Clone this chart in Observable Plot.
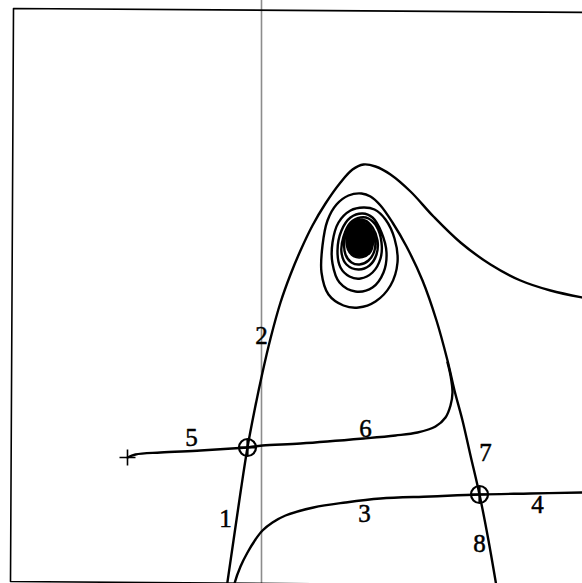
<!DOCTYPE html>
<html>
<head>
<meta charset="utf-8">
<script src="https://cdn.jsdelivr.net/npm/d3@7"></script>
<script src="https://cdn.jsdelivr.net/npm/@observablehq/plot@0.6"></script>
<style>
  html, body { margin: 0; padding: 0; background: #fff; overflow: hidden; }
  #chart svg { display: block; }
</style>
</head>
<body>
<div id="chart"></div>
<script>
// Phase portrait: two saddles, an unstable focus and the separatrices joining them.

// Box around the phase plane (left, top and bottom edges)
const boxEdge = [[3.39, 5.71], [-2.48, 5.75], [-2.51, 0.02], [3.39, -0.025]];

// Stable manifold of the left saddle (branches 1 and 2), over the arch to the right edge
const branch12 = [
  [-0.36, -0.12], [-0.28, 0.43], [-0.21, 0.91], [-0.14, 1.36], [-0.07, 1.73],
  [0.01, 2.11], [0.09, 2.45], [0.19, 2.81], [0.29, 3.09], [0.39, 3.33],
  [0.51, 3.58], [0.64, 3.80], [0.79, 4.01], [0.91, 4.14], [1.02, 4.19],
  [1.14, 4.17], [1.29, 4.09], [1.49, 3.92], [1.72, 3.67], [1.99, 3.41],
  [2.29, 3.19], [2.59, 3.03], [2.89, 2.93], [3.21, 2.86], [3.39, 2.83]
];

// Branches 3 and 4 through the right saddle
const branch34 = [
  [-0.30, -0.15], [-0.27, 0.00], [-0.21, 0.17], [-0.14, 0.31], [-0.06, 0.44],
  [0.01, 0.53], [0.11, 0.61], [0.24, 0.68], [0.52, 0.76], [0.84, 0.81],
  [1.19, 0.85], [1.69, 0.87], [2.18, 0.89], [2.69, 0.90], [3.21, 0.91], [3.39, 0.91]
];

// Branch 5: from the starting point to the left saddle
const branch5 = [[-1.34, 1.26], [-1.26, 1.29], [-1.01, 1.31], [-0.61, 1.33], [-0.14, 1.36]];

// Branch 6: from the left saddle, turning up along branch 7
const branch6 = [
  [-0.14, 1.36], [0.01, 1.38], [0.39, 1.40], [1.02, 1.45], [1.34, 1.48],
  [1.56, 1.51], [1.74, 1.57], [1.84, 1.66], [1.89, 1.78], [1.91, 1.91],
  [1.89, 2.08], [1.86, 2.21]
];

// Branches 8 and 7 through the right saddle, winding into the focus
const branch78 = [
  [2.37, -0.15], [2.27, 0.43], [2.18, 0.89], [2.09, 1.28], [2.01, 1.63],
  [1.93, 1.93], [1.86, 2.23], [1.75, 2.63], [1.61, 3.03], [1.45, 3.37],
  [1.31, 3.61], [1.19, 3.78], [1.09, 3.87], [1.00, 3.90],
  [0.87, 3.88], [0.75, 3.79], [0.66, 3.63], [0.61, 3.38], [0.60, 3.11],
  [0.67, 2.89], [0.82, 2.78], [0.97, 2.76], [1.14, 2.82], [1.29, 2.98],
  [1.36, 3.21], [1.33, 3.45], [1.24, 3.64], [1.13, 3.74],
  [1.02, 3.76], [0.89, 3.73], [0.77, 3.61], [0.71, 3.41], [0.71, 3.20],
  [0.78, 3.01], [0.94, 2.92], [1.11, 2.96], [1.22, 3.11], [1.25, 3.31],
  [1.20, 3.51], [1.11, 3.66],
  [1.01, 3.70], [0.89, 3.66], [0.80, 3.53], [0.76, 3.33], [0.79, 3.16],
  [0.88, 3.07], [0.99, 3.05], [1.11, 3.11], [1.19, 3.25], [1.20, 3.41],
  [1.15, 3.57], [1.07, 3.65],
  [0.99, 3.66], [0.89, 3.61], [0.82, 3.47], [0.80, 3.31], [0.85, 3.19],
  [0.97, 3.14], [1.08, 3.18], [1.15, 3.29], [1.16, 3.43], [1.11, 3.56],
  [1.04, 3.63],
  [0.97, 3.63], [0.88, 3.57], [0.83, 3.43], [0.84, 3.29], [0.90, 3.21],
  [0.98, 3.19], [1.07, 3.23], [1.13, 3.33], [1.13, 3.46], [1.07, 3.57]
];

// Dense core of the spiral around the focus
const focusCore = [
  [0.98, 3.62], [1.07, 3.60], [1.11, 3.51], [1.12, 3.41], [1.09, 3.31],
  [1.01, 3.26], [0.92, 3.27], [0.86, 3.34], [0.85, 3.46], [0.89, 3.57]
];

// Saddle points and the starting point of branch 5
const saddles = [[-0.14, 1.36], [2.18, 0.89]];
const startPoint = [[-1.34, 1.26]];

// Branch numbers
const labelText = ["1", "2", "3", "4", "5", "6", "7", "8"];
const labelX = [-0.36, 0.00, 1.03, 2.76, -0.70, 1.04, 2.24, 2.18];
const labelY = [0.65, 2.48, 0.70, 0.79, 1.46, 1.55, 1.31, 0.40];
const labels = labelText.map((t, i) => ({t, x: labelX[i], y: labelY[i]}));

// A thin "+" drawn as two strokes
const plusSymbol = {
  draw(context, size) {
    const r = Math.sqrt(size / Math.PI);
    context.moveTo(-r, 0); context.lineTo(r, 0);
    context.moveTo(0, -r); context.lineTo(0, r);
  }
};

const curveStyle = {x: d => d[0], y: d => d[1], stroke: "#000", strokeWidth: 2.4, curve: "catmull-rom", clip: true};

const chart = Plot.plot({
  width: 582,
  height: 583,
  margin: 0,
  x: {domain: [-2.61, 3.21], axis: null},
  y: {domain: [0, 5.83], axis: null},
  style: {background: "#fff"},
  marks: [
    Plot.ruleX([0], {stroke: "#8c8c8c", strokeWidth: 1.6}),
    Plot.line(boxEdge, {x: d => d[0], y: d => d[1], stroke: "#000", strokeWidth: 1.6, clip: true}),
    Plot.line(branch12, curveStyle),
    Plot.line(branch34, curveStyle),
    Plot.line(branch5, curveStyle),
    Plot.line(branch6, curveStyle),
    Plot.line(branch78, curveStyle),
    Plot.line(focusCore, {x: d => d[0], y: d => d[1], fill: "#000", stroke: "#000", strokeWidth: 1.5, curve: "catmull-rom-closed"}),
    Plot.dot(saddles, {x: d => d[0], y: d => d[1], r: 8.5, stroke: "#000", strokeWidth: 2.2, fill: "none"}),
    Plot.dot(saddles, {x: d => d[0], y: d => d[1], r: 8.5, symbol: plusSymbol, stroke: "#000", strokeWidth: 2.2, fill: "none"}),
    Plot.dot(startPoint, {x: d => d[0], y: d => d[1], r: 8, symbol: plusSymbol, stroke: "#000", strokeWidth: 1.6, fill: "none"}),
    Plot.text(labels, {x: "x", y: "y", text: "t", fontSize: 25, fontFamily: "Liberation Serif", fill: "#000", stroke: "#000", strokeWidth: 0.5})
  ]
});
document.getElementById("chart").append(chart);
</script>
</body>
</html>
